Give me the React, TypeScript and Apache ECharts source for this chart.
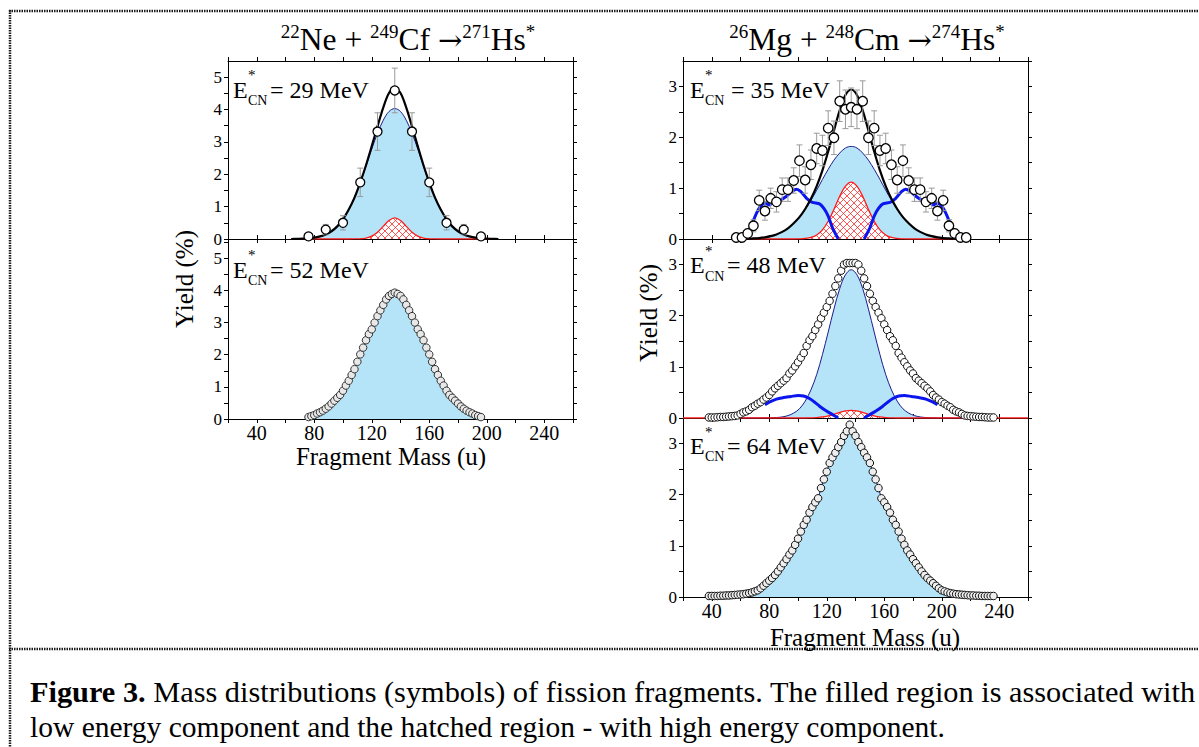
import React, { useEffect, useRef } from "react";
import * as echarts from "echarts";

const FONT = '"Liberation Serif", "Times New Roman", Times, serif';

// ---------- tick labels ----------
const massTickLabels = [40, 80, 120, 160, 200, 240];
const yieldTicksLeft = [0, 1, 2, 3, 4, 5];
const yieldTicksRight = [0, 1, 2, 3];

// ---------- panel A : 22Ne + 249Cf, E* = 29 MeV ----------
const massA = [76, 88, 100, 112, 124, 136, 148, 160, 172, 184, 196];
const yieldA = [0.08, 0.29, 0.5, 1.75, 3.32, 4.59, 3.32, 1.75, 0.5, 0.29, 0.08];
const errA = [0.04, 0.16, 0.22, 0.44, 0.58, 0.69, 0.58, 0.44, 0.22, 0.16, 0.04];
const curveMassA = [64, 68, 72, 76, 80, 84, 88, 92, 96, 100, 104, 108, 112, 116, 120, 124, 128, 132, 136, 140, 144, 148, 152, 156, 160, 164, 168, 172, 176, 180, 184, 188, 192, 196, 200, 204, 208];
const lowA = [0, 0.005, 0.01, 0.02, 0.04, 0.08, 0.14, 0.24, 0.39, 0.61, 0.91, 1.28, 1.74, 2.25, 2.78, 3.27, 3.67, 3.94, 4.03, 3.94, 3.67, 3.27, 2.78, 2.25, 1.74, 1.28, 0.91, 0.61, 0.39, 0.24, 0.14, 0.08, 0.04, 0.02, 0.01, 0.005, 0];
const highA = [0, 0, 0, 0, 0, 0, 0, 0, 0, 0, 0, 0.002, 0.007, 0.03, 0.09, 0.21, 0.39, 0.57, 0.65, 0.57, 0.39, 0.21, 0.09, 0.03, 0.007, 0.002, 0, 0, 0, 0, 0, 0, 0, 0, 0, 0, 0];
const totalA = [0, 0.005, 0.01, 0.02, 0.04, 0.08, 0.14, 0.24, 0.39, 0.61, 0.91, 1.28, 1.75, 2.28, 2.87, 3.48, 4.06, 4.51, 4.68, 4.51, 4.06, 3.48, 2.87, 2.28, 1.75, 1.28, 0.91, 0.61, 0.39, 0.24, 0.14, 0.08, 0.04, 0.02, 0.01, 0.005, 0];

// ---------- panel B : 22Ne + 249Cf, E* = 52 MeV ----------
const massB = [76, 78, 80, 82, 84, 86, 88, 90, 92, 94, 96, 98, 100, 102, 104, 106, 108, 110, 112, 114, 116, 118, 120, 122, 124, 126, 128, 130, 132, 134, 136, 138, 140, 142, 144, 146, 148, 150, 152, 154, 156, 158, 160, 162, 164, 166, 168, 170, 172, 174, 176, 178, 180, 182, 184, 186, 188, 190, 192, 194, 196];
const yieldB = [0.06, 0.09, 0.12, 0.17, 0.21, 0.26, 0.32, 0.39, 0.48, 0.57, 0.66, 0.75, 0.88, 1.04, 1.19, 1.37, 1.55, 1.78, 2.01, 2.22, 2.45, 2.64, 2.79, 3.0, 3.2, 3.38, 3.55, 3.72, 3.83, 3.89, 3.93, 3.89, 3.83, 3.72, 3.55, 3.38, 3.2, 3.0, 2.79, 2.64, 2.45, 2.22, 2.01, 1.78, 1.55, 1.37, 1.19, 1.04, 0.88, 0.75, 0.66, 0.57, 0.48, 0.39, 0.32, 0.26, 0.21, 0.17, 0.12, 0.09, 0.06];

// ---------- panel C : 26Mg + 248Cm, E* = 35 MeV ----------
const massC = [57, 61, 65, 69, 73, 77, 81, 85, 89, 93, 97, 101, 105, 109, 113, 117, 121, 125, 129, 133, 137, 141, 145, 149, 153, 157, 161, 165, 169, 173, 177, 181, 185, 189, 193, 197, 201, 205, 209, 213, 217];
const yieldC = [0.03, 0.03, 0.11, 0.26, 0.76, 0.55, 0.8, 0.73, 0.97, 0.97, 1.15, 1.54, 1.16, 1.46, 1.78, 1.74, 2.18, 1.99, 2.71, 2.55, 2.59, 2.55, 2.71, 1.99, 2.18, 1.74, 1.78, 1.46, 1.16, 1.54, 1.15, 0.97, 0.97, 0.73, 0.8, 0.55, 0.76, 0.26, 0.11, 0.03, 0.03];
const errC = [0.03, 0.03, 0.08, 0.12, 0.2, 0.18, 0.2, 0.2, 0.23, 0.23, 0.25, 0.31, 0.26, 0.29, 0.3, 0.3, 0.34, 0.33, 0.4, 0.38, 0.38, 0.38, 0.4, 0.33, 0.34, 0.3, 0.3, 0.29, 0.26, 0.31, 0.25, 0.23, 0.23, 0.2, 0.2, 0.18, 0.2, 0.12, 0.08, 0.03, 0.03];
const lowC = [0.001, 0.003, 0.006, 0.011, 0.019, 0.033, 0.056, 0.09, 0.14, 0.21, 0.31, 0.43, 0.58, 0.76, 0.96, 1.17, 1.37, 1.55, 1.69, 1.79, 1.82, 1.79, 1.69, 1.55, 1.37, 1.17, 0.96, 0.76, 0.58, 0.43, 0.31, 0.21, 0.14, 0.09, 0.056, 0.033, 0.019, 0.011, 0.006, 0.003, 0.001];
const highC = [0, 0, 0, 0, 0, 0, 0, 0, 0, 0, 0, 0.003, 0.01, 0.03, 0.08, 0.18, 0.35, 0.58, 0.84, 1.04, 1.12, 1.04, 0.84, 0.58, 0.35, 0.18, 0.08, 0.03, 0.01, 0.003, 0, 0, 0, 0, 0, 0, 0, 0, 0, 0, 0];
const totalC = [0.001, 0.003, 0.006, 0.011, 0.019, 0.033, 0.056, 0.09, 0.14, 0.21, 0.31, 0.43, 0.59, 0.79, 1.04, 1.35, 1.72, 2.13, 2.53, 2.83, 2.94, 2.83, 2.53, 2.13, 1.72, 1.35, 1.04, 0.79, 0.59, 0.43, 0.31, 0.21, 0.14, 0.09, 0.056, 0.033, 0.019, 0.011, 0.006, 0.003, 0.001];
const sideMassCLeft = [66, 68, 71, 74, 77, 80, 84, 88, 92, 96, 99, 102, 106, 110, 115, 118, 121, 124, 128];
const sideCLeft = [0.18, 0.3, 0.5, 0.65, 0.71, 0.67, 0.74, 0.77, 0.84, 0.94, 0.98, 0.93, 0.8, 0.72, 0.69, 0.6, 0.45, 0.22, 0.0];
const sideMassCRight = [146, 150, 153, 156, 159, 164, 168, 172, 175, 178, 182, 186, 190, 194, 197, 200, 203, 206, 208];
const sideCRight = [0.0, 0.22, 0.45, 0.6, 0.69, 0.72, 0.8, 0.93, 0.98, 0.94, 0.84, 0.77, 0.74, 0.67, 0.71, 0.65, 0.5, 0.3, 0.18];

// ---------- panel D : 26Mg + 248Cm, E* = 48 MeV ----------
const massD = [38, 40, 42, 44, 46, 48, 50, 52, 54, 56, 58, 60, 62, 64, 66, 68, 70, 72, 74, 76, 78, 80, 82, 84, 86, 88, 90, 92, 94, 96, 98, 100, 102, 104, 106, 108, 110, 112, 114, 116, 118, 120, 122, 124, 126, 128, 130, 132, 134, 136, 138, 140, 142, 144, 146, 148, 150, 152, 154, 156, 158, 160, 162, 164, 166, 168, 170, 172, 174, 176, 178, 180, 182, 184, 186, 188, 190, 192, 194, 196, 198, 200, 202, 204, 206, 208, 210, 212, 214, 216, 218, 220, 222, 224, 226, 228, 230, 232, 234, 236];
const yieldD = [0.01, 0.01, 0.01, 0.015, 0.02, 0.02, 0.025, 0.03, 0.035, 0.04, 0.05, 0.08, 0.11, 0.13, 0.16, 0.21, 0.24, 0.28, 0.31, 0.36, 0.4, 0.45, 0.52, 0.58, 0.63, 0.68, 0.73, 0.78, 0.87, 0.93, 1.01, 1.09, 1.18, 1.27, 1.41, 1.52, 1.6, 1.72, 1.83, 1.95, 2.06, 2.17, 2.29, 2.43, 2.58, 2.73, 2.88, 3.0, 3.03, 3.03,
  3.03, 3.03, 3.0, 2.88, 2.73, 2.58, 2.43, 2.29, 2.17, 2.06, 1.95, 1.83, 1.72, 1.6, 1.52, 1.41, 1.27, 1.18, 1.09, 1.01, 0.93, 0.87, 0.78, 0.73, 0.68, 0.63, 0.58, 0.52, 0.45, 0.4, 0.36, 0.31, 0.28, 0.24, 0.21, 0.16, 0.13, 0.11, 0.08, 0.05, 0.04, 0.035, 0.03, 0.025, 0.02, 0.02, 0.015, 0.01, 0.01, 0.01];
const lowD = [0, 0, 0, 0, 0, 0.0015, 0.004, 0.009, 0.021, 0.047, 0.096, 0.18, 0.33, 0.55, 0.85, 1.24, 1.68, 2.13, 2.53, 2.8, 2.9, 2.8, 2.53, 2.13, 1.68, 1.24, 0.85, 0.55, 0.33, 0.18, 0.096, 0.047, 0.021, 0.009, 0.004, 0.0015, 0, 0, 0, 0, 0];
const redMassD = [20, 57, 61, 65, 69, 73, 77, 81, 85, 89, 93, 97, 101, 105, 109, 113, 117, 121, 125, 129, 133, 137, 141, 145, 149, 153, 157, 161, 165, 169, 173, 177, 181, 185, 189, 193, 197, 201, 205, 209, 213, 217, 260];
const highD = [0, 0, 0, 0, 0, 0, 0, 0, 0, 0, 0, 0, 0, 0, 0.003, 0.008, 0.02, 0.042, 0.073, 0.109, 0.138, 0.15, 0.138, 0.109, 0.073, 0.042, 0.02, 0.008, 0.003, 0, 0, 0, 0, 0, 0, 0, 0, 0, 0, 0, 0, 0, 0];
const sideMassDLeft = [77, 80, 85, 90, 95, 100, 104, 108, 112, 115, 119, 122, 125, 128];
const sideDLeft = [0.26, 0.31, 0.37, 0.4, 0.42, 0.44, 0.43, 0.38, 0.3, 0.23, 0.15, 0.1, 0.05, 0.0];
const sideMassDRight = [146, 149, 152, 155, 159, 162, 166, 170, 174, 179, 184, 189, 194, 197];
const sideDRight = [0.0, 0.05, 0.1, 0.15, 0.23, 0.3, 0.38, 0.43, 0.44, 0.42, 0.4, 0.37, 0.31, 0.26];

// ---------- panel E : 26Mg + 248Cm, E* = 64 MeV ----------
const massE = massD;
const yieldE = [0.02, 0.02, 0.02, 0.02, 0.025, 0.025, 0.03, 0.03, 0.035, 0.04, 0.045, 0.05, 0.055, 0.065, 0.075, 0.09, 0.11, 0.13, 0.17, 0.22, 0.27, 0.32, 0.37, 0.43, 0.5, 0.58, 0.66, 0.74, 0.83, 0.91, 1.02, 1.14, 1.28, 1.41, 1.51, 1.65, 1.76, 1.85, 1.93, 2.13, 2.3, 2.45, 2.62, 2.73, 2.82, 2.93, 3.03, 3.15, 3.24, 3.37,
  3.24, 3.15, 3.03, 2.93, 2.82, 2.73, 2.62, 2.45, 2.3, 2.13, 1.93, 1.85, 1.76, 1.65, 1.51, 1.41, 1.28, 1.14, 1.02, 0.91, 0.83, 0.74, 0.66, 0.58, 0.5, 0.43, 0.37, 0.32, 0.27, 0.22, 0.17, 0.13, 0.11, 0.09, 0.075, 0.065, 0.055, 0.05, 0.045, 0.04, 0.035, 0.03, 0.03, 0.025, 0.025, 0.02, 0.02, 0.02, 0.02, 0.02];

// ---------- texts ----------
const energies = ["29", "52", "35", "48", "64"];
const captionBold = "Figure 3.";
const captionLine1 = " Mass distributions (symbols) of fission fragments. The filled region is associated with";
const captionLine2 = "low energy component and the hatched region - with high energy component.";

// ---------- layout ----------
const grids = [
  { left: 228, top: 61, width: 345, height: 178 },
  { left: 228, top: 239, width: 345, height: 180 },
  { left: 683, top: 61, width: 345, height: 178 },
  { left: 683, top: 239, width: 345, height: 179 },
  { left: 683, top: 418, width: 345, height: 179 },
];
const yMax = [5.5, 5.6, 3.5, 3.5, 3.5];
const showXLabels = [false, true, false, false, true];
const annotPos = [
  { x: 233, yc: 81.7, dx: 37 },
  { x: 233, yc: 261.7, dx: 37 },
  { x: 690, yc: 81.7, dx: 41 },
  { x: 690, yc: 257.3, dx: 37 },
  { x: 690, yc: 438, dx: 37 },
];

const FILL = "#b5e4f9";
const NAVY = "#1c1c8a";
const THICK = "#0b16ee";
const RED = "#ff1a1a";

const pairs = (xs: number[], ys: number[]) => xs.map((x, i) => [x, ys[i]]);

function makeHatch() {
  const c = document.createElement("canvas");
  c.width = 7;
  c.height = 7;
  const ctx = c.getContext("2d")!;
  ctx.fillStyle = "#ffffff";
  ctx.fillRect(0, 0, 7, 7);
  ctx.strokeStyle = "#ff2a2a";
  ctx.lineWidth = 0.8;
  ctx.beginPath();
  ctx.moveTo(0, 0);
  ctx.lineTo(7, 7);
  ctx.moveTo(7, 0);
  ctx.lineTo(0, 7);
  ctx.stroke();
  return c;
}

function lowArea(i: number, xs: number[], ys: number[], smooth: number | boolean) {
  return {
    type: "line", xAxisIndex: i * 2, yAxisIndex: i * 2, data: pairs(xs, ys),
    symbol: "none", smooth, silent: true, z: 2,
    lineStyle: { color: NAVY, width: 1 },
    areaStyle: { color: FILL, opacity: 1 },
  };
}
function highArea(i: number, xs: number[], ys: number[], hatch: any) {
  return {
    type: "line", xAxisIndex: i * 2, yAxisIndex: i * 2, data: pairs(xs, ys),
    symbol: "none", smooth: 0.35, silent: true, z: 3,
    lineStyle: { color: RED, width: 1.3 },
    areaStyle: { color: { image: hatch, repeat: "repeat" }, opacity: 1 },
  };
}
function curve(i: number, xs: number[], ys: number[], color: string, width: number, z: number, smooth: number | boolean) {
  return {
    type: "line", xAxisIndex: i * 2, yAxisIndex: i * 2, data: pairs(xs, ys),
    symbol: "none", smooth, silent: true, z,
    lineStyle: { color, width },
  };
}
function errorBars(i: number, xs: number[], ys: number[], es: number[]) {
  return {
    type: "custom", xAxisIndex: i * 2, yAxisIndex: i * 2, silent: true, z: 5,
    data: xs.map((x, k) => [x, ys[k] - es[k], ys[k] + es[k]]),
    encode: { x: 0, y: [1, 2] },
    renderItem: (_p: any, api: any) => {
      const x = api.value(0);
      const lo = api.coord([x, api.value(1)]);
      const hi = api.coord([x, api.value(2)]);
      const w = 3;
      const st = { stroke: "#9a9a9a", lineWidth: 1 };
      return {
        type: "group",
        children: [
          { type: "line", shape: { x1: lo[0], y1: lo[1], x2: hi[0], y2: hi[1] }, style: st },
          { type: "line", shape: { x1: lo[0] - w, y1: lo[1], x2: lo[0] + w, y2: lo[1] }, style: st },
          { type: "line", shape: { x1: hi[0] - w, y1: hi[1], x2: hi[0] + w, y2: hi[1] }, style: st },
        ],
      };
    },
  };
}
function points(i: number, xs: number[], ys: number[], size: number, fill: string, border: string, bw: number) {
  return {
    type: "scatter", xAxisIndex: i * 2, yAxisIndex: i * 2, data: pairs(xs, ys),
    symbol: "circle", symbolSize: size, silent: true, z: 6,
    itemStyle: { color: fill, borderColor: border, borderWidth: bw, opacity: 1 },
  };
}

export default function App() {
  const ref = useRef<HTMLDivElement>(null);
  useEffect(() => {
    if (!ref.current) return;
    const chart = echarts.init(ref.current, undefined, { renderer: "svg" });
    const hatch = makeHatch();

    const axisLine = { show: true, onZero: false, lineStyle: { color: "#000", width: 1 } };
    const axisTick = { show: true, inside: false, length: 4, lineStyle: { color: "#000", width: 1 } };

    const xAxis: any[] = [];
    const yAxis: any[] = [];
    grids.forEach((_g, i) => {
      xAxis.push({
        type: "value", gridIndex: i, min: 20, max: 260, interval: 20, position: "bottom",
        axisLine, axisTick, splitLine: { show: false },
        axisLabel: {
          show: showXLabels[i], margin: 4, color: "#000", fontFamily: FONT, fontSize: 20,
          formatter: (v: number) => (massTickLabels.includes(v) ? String(v) : ""),
        },
      });
      xAxis.push({
        type: "value", gridIndex: i, min: 20, max: 260, interval: 20, position: "top",
        axisLine, axisTick, splitLine: { show: false }, axisLabel: { show: false },
      });
      const ticks = yMax[i] > 4 ? yieldTicksLeft : yieldTicksRight;
      yAxis.push({
        type: "value", gridIndex: i, min: 0, max: yMax[i], interval: 0.5, position: "left",
        axisLine, axisTick, splitLine: { show: false },
        axisLabel: {
          show: true, margin: 6, color: "#000", fontFamily: FONT, fontSize: 17,
          showMaxLabel: false,
          formatter: (v: number) => (ticks.includes(Math.round(v * 100) / 100) ? String(Math.round(v)) : ""),
        },
      });
      yAxis.push({
        type: "value", gridIndex: i, min: 0, max: yMax[i], interval: 0.5, position: "right",
        axisLine, axisTick, splitLine: { show: false }, axisLabel: { show: false },
      });
    });

    const series: any[] = [
      // A
      lowArea(0, curveMassA, lowA, 0.35),
      highArea(0, curveMassA, highA, hatch),
      curve(0, curveMassA, totalA, "#000", 2.2, 4, 0.35),
      errorBars(0, massA, yieldA, errA),
      points(0, massA, yieldA, 9, "#fff", "#000", 1.3),
      // B
      lowArea(1, massB, yieldB, false),
      points(1, massB, yieldB, 7.5, "#e8e8e8", "#333", 1),
      // C
      lowArea(2, massC, lowC, 0.35),
      highArea(2, massC, highC, hatch),
      curve(2, sideMassCLeft, sideCLeft, THICK, 3, 4, 0.2),
      curve(2, sideMassCRight, sideCRight, THICK, 3, 4, 0.2),
      curve(2, massC, totalC, "#000", 2.2, 4, 0.35),
      errorBars(2, massC, yieldC, errC),
      points(2, massC, yieldC, 9.5, "#fff", "#000", 1.3),
      // D
      lowArea(3, massC, lowD, 0.35),
      highArea(3, redMassD, highD, hatch),
      curve(3, sideMassDLeft, sideDLeft, THICK, 3, 4, 0.3),
      curve(3, sideMassDRight, sideDRight, THICK, 3, 4, 0.3),
      points(3, massD, yieldD, 7.5, "#fff", "#111", 1),
      // E
      lowArea(4, massE, yieldE, false),
      points(4, massE, yieldE, 7.5, "#eeeeee", "#111", 1),
    ];

    const graphic: any[] = [];
    const dashStyle = { stroke: "#1a1a1a", lineWidth: 2.5, lineDash: [1.5, 1] };
    graphic.push({ type: "line", shape: { x1: 9, y1: 11, x2: 1199, y2: 11 }, style: dashStyle, silent: true });
    graphic.push({ type: "line", shape: { x1: 10, y1: 10, x2: 10, y2: 747 }, style: dashStyle, silent: true });
    graphic.push({ type: "line", shape: { x1: 9, y1: 649, x2: 1199, y2: 649 }, style: dashStyle, silent: true });

    const titleRich = {
      b: { fontSize: 31.5, fontFamily: FONT, lineHeight: 36, fill: "#000", color: "#000" },
      a: { fontSize: 29, fontFamily: '"DejaVu Serif", serif', lineHeight: 36, fill: "#000", color: "#000" },
      s: { fontSize: 19, fontFamily: FONT, lineHeight: 18, verticalAlign: "top", fill: "#000", color: "#000" },
    };
    graphic.push({
      type: "text", x: 408, y: 21.5, silent: true,
      style: { text: "{s|22}{b|Ne + }{s|249}{b|Cf }{a|→}{s|271}{b|Hs}{s|*}", rich: titleRich, align: "center", verticalAlign: "top", fill: "#000" },
    });
    graphic.push({
      type: "text", x: 867, y: 21.5, silent: true,
      style: { text: "{s|26}{b|Mg + }{s|248}{b|Cm }{a|→}{s|274}{b|Hs}{s|*}", rich: titleRich, align: "center", verticalAlign: "top", fill: "#000" },
    });

    annotPos.forEach((p, i) => {
      graphic.push({ type: "text", x: p.x, y: p.yc + 7.8, silent: true, style: { text: "E", fontFamily: FONT, fontSize: 24, fill: "#000", align: "left", verticalAlign: "middle" } });
      graphic.push({ type: "text", x: p.x + 15, y: p.yc - 6.5, silent: true, style: { text: "*", fontFamily: FONT, fontSize: 15, fill: "#000", align: "left", verticalAlign: "middle" } });
      graphic.push({ type: "text", x: p.x + 15, y: p.yc + 18.9, silent: true, style: { text: "CN", fontFamily: FONT, fontSize: 14, fill: "#000", align: "left", verticalAlign: "middle" } });
      graphic.push({ type: "text", x: p.x + p.dx, y: p.yc + 7.8, silent: true, style: { text: "= " + energies[i] + " MeV", fontFamily: FONT, fontSize: 24, fill: "#000", align: "left", verticalAlign: "middle" } });
    });

    graphic.push({ type: "text", x: 184, y: 279, rotation: Math.PI / 2, silent: true, style: { text: "Yield (%)", fontFamily: FONT, fontSize: 25, fill: "#000", align: "center", verticalAlign: "middle" } });
    graphic.push({ type: "text", x: 648, y: 313, rotation: Math.PI / 2, silent: true, style: { text: "Yield (%)", fontFamily: FONT, fontSize: 25, fill: "#000", align: "center", verticalAlign: "middle" } });
    graphic.push({ type: "text", x: 391, y: 456, silent: true, style: { text: "Fragment Mass (u)", fontFamily: FONT, fontSize: 25, fill: "#000", align: "center", verticalAlign: "middle" } });
    graphic.push({ type: "text", x: 865, y: 637, silent: true, style: { text: "Fragment Mass (u)", fontFamily: FONT, fontSize: 25, fill: "#000", align: "center", verticalAlign: "middle" } });

    graphic.push({
      type: "text", x: 30, y: 692, scaleX: 1.028, silent: true,
      style: {
        text: "{b|" + captionBold + "}{n|" + captionLine1 + "}",
        rich: {
          b: { fontFamily: FONT, fontSize: 29.5, fontWeight: "bold", fill: "#000", color: "#000" },
          n: { fontFamily: FONT, fontSize: 29.5, fill: "#000", color: "#000" },
        },
        align: "left", verticalAlign: "middle", fill: "#000",
      },
    });
    graphic.push({ type: "text", x: 30, y: 727, silent: true, style: { text: captionLine2, fontFamily: FONT, fontSize: 29.5, fill: "#000", align: "left", verticalAlign: "middle" } });

    chart.setOption({
      animation: false,
      backgroundColor: "#ffffff",
      grid: grids.map((g) => ({ ...g, containLabel: false })),
      xAxis,
      yAxis,
      series,
      graphic,
    });
    return () => chart.dispose();
  }, []);
  return (
    <div
      ref={ref}
      style={{ position: "absolute", left: 0, top: 0, width: 1199, height: 747, background: "#fff" }}
    />
  );
}
